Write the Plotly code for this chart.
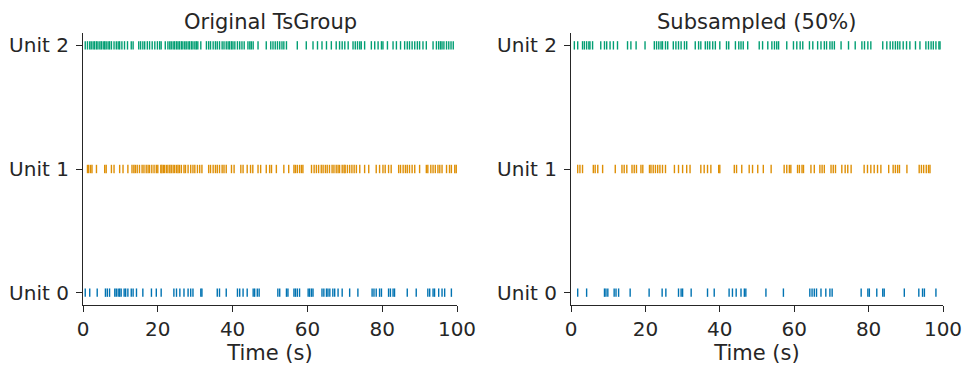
import plotly.graph_objects as go

units = ["Unit 0", "Unit 1", "Unit 2"]
colors = ["#0173b2", "#de8f05", "#029e73"]
panel_titles = ["Original TsGroup", "Subsampled (50%)"]
x_ticks = [0, 20, 40, 60, 80, 100]

orig_unit0 = [0.6, 1.8, 3.8, 6.0, 6.5, 7.1, 8.5, 8.9, 9.4, 9.8, 10.2, 11.0, 11.4, 12.0, 12.9,
              13.4, 14.3, 16.0, 18.3, 19.6, 20.9, 24.3, 25.0, 25.9, 27.0, 28.1, 28.8, 29.4,
              31.5, 31.8, 35.9, 36.5, 38.3, 41.3, 41.9, 42.8, 43.9, 45.5, 45.9, 46.6, 47.1,
              52.1, 52.6, 54.4, 54.8, 56.4, 56.8, 57.3, 57.9, 60.2, 60.6, 61.1, 61.5, 63.9,
              64.4, 65.1, 65.5, 66.0, 66.8, 67.3, 68.2, 69.3, 71.3, 73.5, 77.3, 77.8, 78.4,
              79.3, 79.8, 81.7, 82.2, 82.9, 83.3, 86.7, 89.1, 92.2, 92.7, 93.6, 94.0, 95.1,
              96.0, 96.7, 98.5]
orig_unit1 = [1.2, 1.5, 2.0, 2.4, 3.6, 5.8, 6.2, 7.6, 8.3, 9.8, 10.7, 12.0, 13.1, 13.6, 14.0,
              14.5, 15.1, 15.8, 16.3, 16.9, 17.4, 17.8, 18.4, 19.0, 19.6, 20.0, 20.8, 21.1,
              21.5, 21.8, 22.3, 22.7, 23.2, 23.6, 24.1, 24.5, 25.0, 25.4, 25.8, 26.3, 27.0,
              27.4, 28.1, 28.8, 29.4, 29.9, 30.6, 31.2, 31.8, 33.6, 34.1, 34.8, 35.4, 35.9,
              36.5, 37.2, 37.7, 38.3, 39.7, 40.4, 42.2, 42.8, 43.9, 44.8, 45.4, 46.8, 47.5,
              49.0, 49.9, 50.4, 51.7, 53.7, 55.0, 56.4, 56.8, 57.3, 57.9, 58.4, 58.8, 61.1,
              61.8, 62.4, 63.0, 63.7, 64.2, 64.8, 65.3, 65.9, 66.6, 67.1, 67.7, 68.2, 68.6,
              69.3, 69.8, 70.1, 70.7, 71.3, 71.9, 72.5, 73.1, 74.0, 75.3, 76.4, 78.4, 79.3,
              80.2, 80.8, 81.7, 82.4, 84.4, 84.9, 85.6, 86.2, 86.7, 87.3, 88.0, 88.7, 90.0,
              91.8, 92.2, 93.0, 93.6, 94.2, 94.9, 95.4, 96.0, 97.2, 98.0, 98.5, 99.4, 99.8]
orig_unit2 = [0.6, 1.2, 1.8, 2.2, 2.7, 3.1, 3.6, 4.0, 4.5, 4.9, 5.4, 5.8, 6.2, 6.7, 7.1, 7.6,
              8.3, 8.9, 9.4, 9.8, 10.4, 11.1, 11.9, 12.9, 13.4, 14.9, 15.4, 16.0, 16.5, 17.2,
              17.8, 18.5, 19.2, 19.9, 20.5, 20.9, 22.0, 22.7, 23.2, 23.6, 24.1, 24.5, 25.0,
              25.4, 25.8, 26.3, 26.7, 27.2, 27.6, 28.1, 28.5, 29.0, 29.4, 29.9, 30.3, 30.7,
              31.5, 33.0, 33.6, 34.1, 34.8, 35.4, 35.9, 36.5, 37.2, 37.7, 38.3, 38.8, 39.2,
              39.7, 40.1, 40.6, 41.3, 41.9, 42.5, 43.1, 44.1, 44.6, 45.0, 45.5, 46.8, 49.0,
              50.2, 50.8, 51.4, 52.0, 52.6, 53.2, 53.7, 54.4, 57.3, 59.7, 61.5, 62.7, 63.9,
              65.1, 66.4, 67.7, 68.6, 69.3, 70.0, 70.9, 72.2, 72.8, 73.4, 74.0, 74.4, 75.3,
              77.1, 78.0, 78.9, 79.8, 80.2, 81.4, 82.9, 83.8, 84.9, 86.0, 86.7, 87.3, 88.0,
              88.7, 89.4, 90.0, 90.9, 91.8, 93.6, 94.5, 95.1, 95.6, 96.0, 96.5, 97.2, 97.8,
              98.4, 99.0]

sub_unit0 = [1.8, 4.2, 9.0, 9.4, 9.9, 11.6, 12.1, 12.8, 15.9, 21.0, 24.5, 25.5, 28.9, 29.6,
             30.0, 32.3, 36.7, 38.5, 42.5, 43.4, 44.4, 45.7, 46.6, 47.0, 52.4, 57.1, 64.2,
             64.8, 65.4, 66.0, 67.2, 68.5, 69.6, 70.2, 78.0, 79.8, 80.2, 82.2, 83.8, 84.2,
             89.6, 93.5, 94.5, 95.0, 98.1]
sub_unit1 = [1.8, 2.4, 3.1, 6.0, 6.5, 7.2, 8.5, 11.9, 13.7, 14.3, 15.0, 16.4, 17.0, 17.6,
             18.8, 19.3, 21.1, 21.5, 22.1, 22.7, 23.3, 23.9, 24.6, 25.4, 27.8, 28.9, 30.0,
             31.1, 32.0, 34.9, 35.8, 36.7, 37.6, 39.7, 40.0, 43.9, 44.5, 45.9, 47.9, 48.8,
             50.2, 51.7, 53.8, 57.3, 58.0, 58.7, 59.1, 60.9, 61.4, 62.1, 62.5, 64.5, 65.4,
             66.9, 67.5, 68.1, 69.9, 70.5, 71.1, 72.8, 73.7, 74.4, 75.3, 78.8, 79.7, 80.6,
             81.5, 82.4, 83.3, 85.4, 86.6, 87.2, 87.8, 88.3, 90.3, 93.6, 94.2, 94.8, 95.5,
             96.1, 96.5]
sub_unit2 = [0.9, 1.8, 3.1, 3.6, 4.2, 4.8, 5.1, 5.8, 8.0, 9.0, 9.6, 10.5, 11.4, 12.5, 15.2,
             16.1, 17.5, 19.9, 22.4, 23.0, 23.6, 24.2, 24.6, 25.4, 26.0, 27.5, 28.2, 28.9,
             29.6, 30.5, 31.1, 33.4, 34.3, 34.9, 36.1, 36.7, 37.3, 38.1, 38.8, 40.0, 41.8,
             42.4, 44.2, 45.1, 45.7, 46.3, 47.5, 50.6, 51.5, 52.9, 54.0, 54.7, 55.3, 55.8,
             58.0, 59.8, 60.7, 61.6, 62.3, 64.1, 65.0, 66.3, 67.2, 68.1, 68.7, 69.6, 70.2,
             70.8, 72.6, 74.6, 76.4, 78.2, 78.9, 79.8, 80.6, 83.8, 84.9, 85.8, 86.5, 87.2,
             87.8, 88.4, 89.3, 90.2, 91.1, 92.6, 93.8, 95.4, 96.1, 96.8, 97.4, 98.1, 98.9,
             99.2]

panels = [[orig_unit0, orig_unit1, orig_unit2], [sub_unit0, sub_unit1, sub_unit2]]

# page body adds an 8px offset; compensate so the plot lands where the reference has it
OFF = 8
W, H = 973 - OFF, 373 - OFF
ml, mt = 83 - OFF, 33 - OFF
mr = W - (943 - OFF)
mb = H - (305 - OFF)
pw = W - ml - mr
dom1 = [0, (457 - 83) / pw]
dom2 = [(571 - 83) / pw, 1]

fig = go.Figure()
txt = "#262626"
font_family = "DejaVu Sans"

for p, data in enumerate(panels):
    xa = "x" if p == 0 else "x2"
    ya = "y" if p == 0 else "y2"
    for k, times in enumerate(data):
        fig.add_trace(go.Scatter(
            x=times, y=[k] * len(times), mode="markers", xaxis=xa, yaxis=ya,
            marker=dict(symbol="line-ns-open", size=6, color=colors[k],
                        line=dict(color=colors[k], width=1.4)),
            showlegend=False, hoverinfo="x"))

axis_common = dict(showline=True, linecolor=txt, linewidth=1.25, ticks="outside",
                   ticklen=6, tickwidth=1.25, tickcolor=txt, showgrid=False,
                   zeroline=False, automargin=False,
                   tickfont=dict(size=20, color=txt, family=font_family))

for p, dom in enumerate([dom1, dom2]):
    sfx = "" if p == 0 else "2"
    fig.layout["xaxis" + sfx] = dict(domain=dom, range=[0, 100], tickvals=x_ticks,
                                     title=dict(text="Time (s)", standoff=5,
                                                font=dict(size=21, color=txt, family=font_family)),
                                     anchor="y" + sfx, **axis_common)
    fig.layout["yaxis" + sfx] = dict(domain=[0, 1], range=[-0.1, 2.1], tickvals=[0, 1, 2],
                                     ticktext=units, anchor="x" + sfx, ticklabelstandoff=3,
                                     **axis_common)
    fig.add_annotation(text=panel_titles[p], x=(dom[0] + dom[1]) / 2, y=1, xref="paper",
                       yref="paper", yshift=-2, xanchor="center", yanchor="bottom",
                       borderpad=0, showarrow=False,
                       font=dict(size=21, color=txt, family=font_family))

fig.update_layout(width=W, height=H, margin=dict(l=ml, r=mr, t=mt, b=mb),
                  paper_bgcolor="white", plot_bgcolor="white",
                  font=dict(family=font_family, color=txt))

fig.write_html("out.html")
